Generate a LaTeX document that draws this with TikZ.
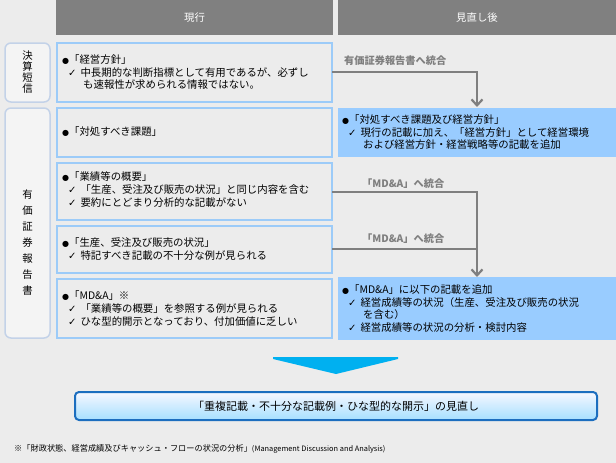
\documentclass[tikz,border=0pt]{standalone}
\usepackage{fontspec}
\setmainfont{Noto Sans CJK JP}
\newfontfamily\symf{DejaVu Sans}
\usetikzlibrary{arrows.meta}
\definecolor{bg}{HTML}{ECECEC}
\definecolor{hdr}{HTML}{808080}
\definecolor{lbord}{HTML}{9CCBF8}
\definecolor{rfill}{HTML}{99CCFF}
\definecolor{tabb}{HTML}{C3D2E8}
\definecolor{arr}{HTML}{7F7F7F}
\definecolor{cyanA}{HTML}{00B0F0}
\definecolor{bbord}{HTML}{1C6EBF}
\newcommand{\bul}{{\symf\fontsize{8}{8}\selectfont ●}}
\newcommand{\chk}{{\symf\fontsize{10}{10}\selectfont ✓}}
\tikzset{
  hdrbox/.style={fill=hdr,draw=none},
  lbox/.style={fill=bg,draw=lbord,line width=1.8pt},
  rbox/.style={fill=rfill,draw=none},
  tabbox/.style={fill=bg!60!white,draw=tabb,line width=1.5pt,rounded corners=6pt},
  txt/.style={anchor=west,align=left,font=\fontsize{10.4}{14}\selectfont,inner sep=0pt},
  lab/.style={anchor=west,font=\fontsize{10.2}{12}\selectfont\bfseries,text=arr,inner sep=0pt},
  conn/.style={draw=arr,line width=2.2pt},
}
\begin{document}
\begin{tikzpicture}[x=1pt,y=-1pt]
\fill[bg] (0,0) rectangle (616,463);
\useasboundingbox (0,0) rectangle (616,463);
% headers
\fill[hdrbox] (56,0) rectangle (333,35);
\fill[hdrbox] (338,0) rectangle (616,35);
\node[text=white,font=\fontsize{10.4}{12}\selectfont] (h1) at (194.5,17.5) {現行};
\node[text=white,font=\fontsize{10.4}{12}\selectfont] (h2) at (477,17.5) {見直し後};
% tabs
\draw[tabbox] (5,43) rectangle (50,102);
\node[align=center,font=\fontsize{10.4}{12}\selectfont,inner sep=0pt] (t1) at (27.5,72.5) {決\\[-1pt]算\\[-1pt]短\\[-1pt]信};
\draw[tabbox] (5,108) rectangle (50,338);
\node[align=center,font=\fontsize{10.4}{12}\selectfont,inner sep=0pt] (t2) at (27.5,243) {有\\[4pt]価\\[4pt]証\\[4pt]券\\[4pt]報\\[4pt]告\\[4pt]書};
% left boxes
\draw[lbox] (57,43) rectangle (332,102);
\draw[lbox] (57,108) rectangle (332,157);
\draw[lbox] (57,163) rectangle (332,220);
\draw[lbox] (57,226) rectangle (332,273);
\draw[lbox] (57,279) rectangle (332,338);
\node[txt] (a1) at (62,72) {\bul「経営方針」\\[-1pt]
 \hspace{6pt}\chk\hspace{4pt}中長期的な判断指標として有用であるが、必ずし\\[-2pt]
 \hspace{21pt}も速報性が求められる情報ではない。};
\node[txt] (a2) at (62,132) {\bul「対処すべき課題」};
\node[txt] (a3) at (62,190) {\bul「業績等の概要」\\[-1pt]
 \hspace{6pt}\chk\hspace{4pt}「生産、受注及び販売の状況」と同じ内容を含む\\[-1pt]
 \hspace{6pt}\chk\hspace{4pt}要約にとどまり分析的な記載がない};
\node[txt] (a4) at (62,249) {\bul「生産、受注及び販売の状況」\\[-1pt]
 \hspace{6pt}\chk\hspace{4pt}特記すべき記載の不十分な例が見られる};
\node[txt] (a5) at (62,309) {\bul「MD\&A」※\\[-1pt]
 \hspace{6pt}\chk\hspace{4pt}「業績等の概要」を参照する例が見られる\\[-1pt]
 \hspace{6pt}\chk\hspace{4pt}ひな型的開示となっており、付加価値に乏しい};
% right boxes
\fill[rbox] (338,108) rectangle (616,157);
\fill[rbox] (338,277) rectangle (616,340);
\node[txt] (b1) at (342,132) {\bul「対処すべき課題及び経営方針」\\[-1pt]
 \hspace{6pt}\chk\hspace{4pt}現行の記載に加え、「経営方針」として経営環境\\[-2pt]
 \hspace{21pt}および経営方針・経営戦略等の記載を追加};
\node[txt] (b2) at (342,309) {\bul「MD\&A」に以下の記載を追加\\[-1pt]
 \hspace{6pt}\chk\hspace{4pt}経営成績等の状況（生産、受注及び販売の状況\\[-2pt]
 \hspace{21pt}を含む）\\[-1pt]
 \hspace{6pt}\chk\hspace{4pt}経営成績等の状況の分析・検討内容};
% connectors
\coordinate (c1) at (332,72);
\coordinate (c1t) at (477,107);
\draw[conn,-{Straight Barb[length=6pt,width=11pt]}] (c1) -| (c1t);
\node[lab] (l1) at (344,61) {有価証券報告書へ統合};
\coordinate (c3) at (332,192);
\coordinate (c4) at (332,249);
\coordinate (c5t) at (477,277);
\draw[conn] (c3) -| (477,249);
\draw[conn,-{Straight Barb[length=6pt,width=11pt]}] (c4) -| (c5t);
\node[lab] (l2) at (362,184) {「MD\&A」へ統合};
\node[lab] (l3) at (362,239) {「MD\&A」へ統合};
% big arrow
\fill[cyanA] (273,357) -- (398,357) -- (398,359) -- (336,374) -- (273,359) -- cycle;
% bottom box
\shade[top color=white!85!blue!20, bottom color=blue!35!cyan!35!white, rounded corners=4pt] (75,392) rectangle (597,420);
\draw[bbord,line width=2pt,rounded corners=4pt] (75,392) rectangle (597,420);
\node[font=\fontsize{11}{12}\selectfont] (bt) at (336,406) {「重複記載・不十分な記載例・ひな型的な開示」の見直し};
% footnote
\node[anchor=west,inner sep=0pt,font=\fontsize{8.2}{9}\selectfont] (fn) at (14,449) {※「財政状態、経営成績及びキャッシュ・フローの状況の分析」{\fontsize{7.4}{9}\selectfont (Management Discussion and Analysis)}};
\end{tikzpicture}
\end{document}
